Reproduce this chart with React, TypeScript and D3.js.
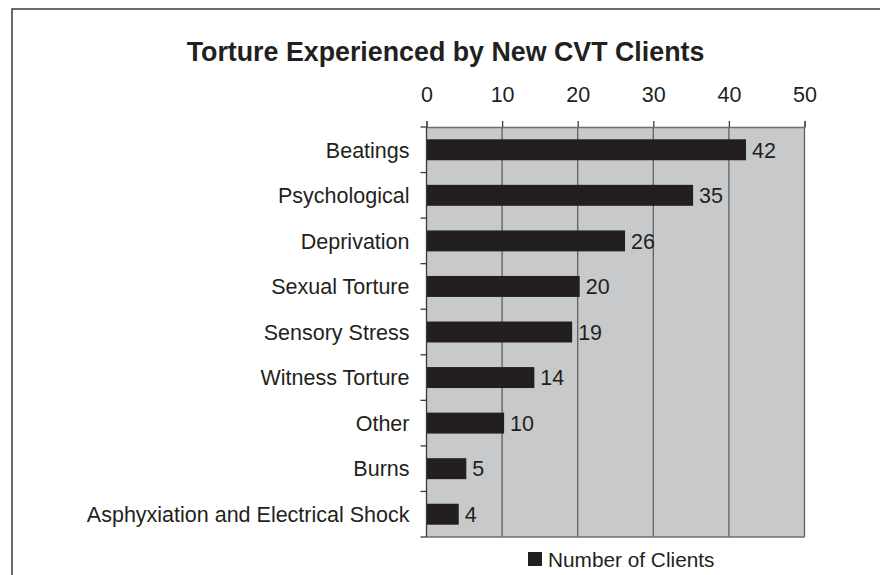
import React, { useEffect, useRef } from 'react';
import * as d3 from 'd3';

const categories = [
  'Beatings',
  'Psychological',
  'Deprivation',
  'Sexual Torture',
  'Sensory Stress',
  'Witness Torture',
  'Other',
  'Burns',
  'Asphyxiation and Electrical Shock',
];
const clients = [42, 35, 26, 20, 19, 14, 10, 5, 4];
const xTicks = [0, 10, 20, 30, 40, 50];
const seriesName = 'Number of Clients';
const title = 'Torture Experienced by New CVT Clients';

const W = 880;
const H = 575;
const FONT = '"Liberation Sans", Arial, Helvetica, sans-serif';
const LABEL_SIZE = 21.5;

const App: React.FC = () => {
  const svgRef = useRef<SVGSVGElement>(null);

  useEffect(() => {
    if (!svgRef.current) return;
    const svg = d3.select(svgRef.current);
    svg.selectAll('*').remove();

    const margin = { top: 127, left: 426.5, right: 75.5, bottom: 38 };
    const innerW = W - margin.left - margin.right;
    const innerH = H - margin.top - margin.bottom;

    // outer frame (cut off on right and bottom)
    svg.append('path')
      .attr('d', `M12,${H + 5}V9H${W + 5}`)
      .attr('fill', 'none')
      .attr('stroke', '#3a3a3a')
      .attr('stroke-width', 1.5);

    svg.append('text')
      .attr('x', 445.5)
      .attr('y', 61)
      .attr('text-anchor', 'middle')
      .attr('font-family', FONT)
      .attr('font-weight', 'bold')
      .attr('font-size', 26.8)
      .attr('fill', '#231f20')
      .text(title);

    const x = d3.scaleLinear().domain([0, 50]).range([0, innerW]);
    const y = d3.scaleBand<string>()
      .domain(categories)
      .range([0, innerH])
      .paddingInner(0.54)
      .paddingOuter(0.27);

    const g = svg.append('g')
      .attr('transform', `translate(${margin.left},${margin.top})`);

    // plot area
    g.append('rect')
      .attr('width', innerW)
      .attr('height', innerH)
      .attr('fill', '#c8c9ca');

    // gridlines
    g.selectAll('.grid')
      .data(xTicks.slice(1))
      .enter()
      .append('line')
      .attr('x1', d => x(d))
      .attr('x2', d => x(d))
      .attr('y1', 0)
      .attr('y2', innerH)
      .attr('stroke', '#5e5f61')
      .attr('stroke-width', 1.3);

    // bottom edge
    g.append('line')
      .attr('x1', 0).attr('x2', innerW)
      .attr('y1', innerH).attr('y2', innerH)
      .attr('stroke', '#6d6e70')
      .attr('stroke-width', 1.3);

    // bars
    g.selectAll('.bar')
      .data(clients)
      .enter()
      .append('rect')
      .attr('x', 0)
      .attr('y', (d, i) => y(categories[i]) || 0)
      .attr('width', d => x(d) + 2)
      .attr('height', y.bandwidth())
      .attr('fill', '#231f20');

    // value labels
    g.selectAll('.val')
      .data(clients)
      .enter()
      .append('text')
      .attr('x', d => x(d) + 8)
      .attr('y', (d, i) => (y(categories[i]) || 0) + y.bandwidth() / 2)
      .attr('dy', '0.36em')
      .attr('font-family', FONT)
      .attr('font-size', LABEL_SIZE)
      .attr('fill', '#231f20')
      .text(d => d);

    // top axis
    const top = g.append('g')
      .call(d3.axisTop(x).tickValues(xTicks).tickSize(6).tickPadding(19));
    top.select('.domain').attr('stroke', '#6d6e70').attr('stroke-width', 1.3);
    top.selectAll('line').attr('stroke', '#3a3a3a').attr('stroke-width', 1.3);
    top.selectAll('text')
      .attr('font-family', FONT)
      .attr('font-size', LABEL_SIZE)
      .attr('fill', '#231f20');

    // left axis: ticks at band boundaries
    const bandStep = innerH / categories.length;
    const left = g.append('g');
    left.append('line')
      .attr('x1', 0).attr('x2', 0)
      .attr('y1', 0).attr('y2', innerH)
      .attr('stroke', '#3a3a3a')
      .attr('stroke-width', 1.3);
    left.selectAll('.tk')
      .data(d3.range(categories.length + 1))
      .enter()
      .append('line')
      .attr('x1', -6).attr('x2', 0)
      .attr('y1', d => d * bandStep)
      .attr('y2', d => d * bandStep)
      .attr('stroke', '#3a3a3a')
      .attr('stroke-width', 1.3);
    left.selectAll('.lbl')
      .data(categories)
      .enter()
      .append('text')
      .attr('x', -17)
      .attr('y', d => (y(d) || 0) + y.bandwidth() / 2)
      .attr('dy', '0.36em')
      .attr('text-anchor', 'end')
      .attr('font-family', FONT)
      .attr('font-size', LABEL_SIZE)
      .attr('fill', '#231f20')
      .text(d => d);

    // legend
    const lg = svg.append('g').attr('transform', 'translate(528,552)');
    lg.append('rect')
      .attr('width', 14)
      .attr('height', 14)
      .attr('fill', '#231f20');
    lg.append('text')
      .attr('x', 20)
      .attr('y', 14.5)
      .attr('font-family', FONT)
      .attr('font-size', 20.8)
      .attr('fill', '#231f20')
      .text(seriesName);
  }, []);

  return (
    <svg
      ref={svgRef}
      width={W}
      height={H}
      style={{ position: 'absolute', left: 0, top: 0, background: '#fff', display: 'block' }}
    />
  );
};

export default App;
